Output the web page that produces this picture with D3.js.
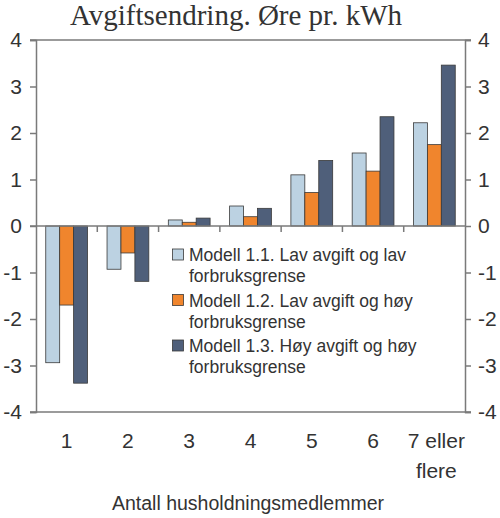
<!DOCTYPE html>
<html><head><meta charset="utf-8">
<script src="https://cdn.jsdelivr.net/npm/d3@7"></script>
<style>body{margin:0;background:#fff}svg{display:block}</style>
</head><body>
<script>
const categories = ["1","2","3","4","5","6","7 eller\nflere"];
const seriesNames = [
  "Modell 1.1. Lav avgift og lav\nforbruksgrense",
  "Modell 1.2. Lav avgift og høy\nforbruksgrense",
  "Modell 1.3. Høy avgift og høy\nforbruksgrense"
];
const modell11 = [-2.94, -0.93, 0.13, 0.43, 1.10, 1.57, 2.22];
const modell12 = [-1.70, -0.58, 0.08, 0.20, 0.72, 1.18, 1.75];
const modell13 = [-3.38, -1.19, 0.17, 0.38, 1.41, 2.35, 3.46];
const yTicks = [-4,-3,-2,-1,0,1,2,3,4];
const colors = ["#bcd2e2", "#f0852d", "#4f5f7a"];
const title = "Avgiftsendring. Øre pr. kWh";
const xTitle = "Antall husholdningsmedlemmer";

const series = [modell11, modell12, modell13];
const W = 500, H = 518;
const L = 36, R = 465, T = 40, B = 412;
const sans = "'Liberation Sans', Arial, sans-serif";
const axisCol = "#7a7a7a", textCol = "#333";

const svg = d3.select("body").append("svg").attr("width", W).attr("height", H);

const x0 = d3.scaleBand().domain(d3.range(categories.length)).range([L, R]).paddingInner(0).paddingOuter(0);
const x1 = d3.scaleBand().domain(d3.range(series.length)).range([0, x0.bandwidth()]).paddingOuter(0.7).paddingInner(0);
const y = d3.scaleLinear().domain([-4, 4]).range([B, T]);

// title
svg.append("text").attr("x", 236).attr("y", 25).attr("text-anchor", "middle")
  .style("font-family", "'Liberation Serif', 'Times New Roman', serif").style("font-size", "29px")
  .attr("fill", textCol).text(title);

// frame lines top/bottom
[T, B].forEach(v => svg.append("line").attr("x1", L - 6).attr("x2", R + 6).attr("y1", v).attr("y2", v)
  .attr("stroke", axisCol).attr("stroke-width", 1.5));

// left axis
const yl = svg.append("g").attr("transform", `translate(${L},0)`)
  .call(d3.axisLeft(y).tickValues(yTicks).tickSize(6).tickPadding(8).tickFormat(d3.format("d")));
// right axis
const yr = svg.append("g").attr("transform", `translate(${R},0)`)
  .call(d3.axisRight(y).tickValues(yTicks).tickSize(6).tickPadding(7).tickFormat(d3.format("d")));
[yl, yr].forEach(g => {
  g.select(".domain").attr("stroke", axisCol).attr("stroke-width", 1.5);
  g.selectAll(".tick line").attr("stroke", axisCol).attr("stroke-width", 1.5);
  g.selectAll(".tick text").attr("fill", textCol).style("font-family", sans).style("font-size", "21px");
});
yl.selectAll(".tick text").text(d => d < 0 ? "-" + Math.abs(d) : d);
yr.selectAll(".tick text").text(d => d < 0 ? "-" + Math.abs(d) : d);

// bars
categories.forEach((c, i) => {
  series.forEach((s, j) => {
    const v = s[i];
    svg.append("rect")
      .attr("x", x0(i) + x1(j)).attr("width", x1.bandwidth())
      .attr("y", y(Math.max(0, v))).attr("height", Math.abs(y(v) - y(0)))
      .attr("fill", colors[j]).attr("stroke", "#3a3a3a").attr("stroke-width", 0.8);
  });
});

// zero line and category ticks
svg.append("line").attr("x1", L - 6).attr("x2", R).attr("y1", y(0)).attr("y2", y(0))
  .attr("stroke", axisCol).attr("stroke-width", 1.5);
d3.range(1, categories.length).forEach(i => {
  svg.append("line").attr("x1", x0(i)).attr("x2", x0(i)).attr("y1", y(0)).attr("y2", y(0) + 6)
    .attr("stroke", axisCol).attr("stroke-width", 1.5);
});

// x labels
categories.forEach((c, i) => {
  const cx = x0(i) + x0.bandwidth() / 2 + (i === 6 ? 2 : 0);
  const t = svg.append("text").attr("x", cx).attr("y", 448)
    .attr("text-anchor", "middle").attr("fill", textCol)
    .style("font-family", sans).style("font-size", "21px");
  c.split("\n").forEach((ln, k) => t.append("tspan").attr("x", cx)
    .attr("dy", k === 0 ? 0 : 30).text(ln));
});

// x title
svg.append("text").attr("x", 248).attr("y", 510).attr("text-anchor", "middle")
  .attr("fill", textCol).style("font-family", sans).style("font-size", "19.5px").text(xTitle);

// legend
seriesNames.forEach((name, j) => {
  const by = 261 + j * 45.5;
  svg.append("rect").attr("x", 172.5).attr("y", by - 12).attr("width", 11).attr("height", 11)
    .attr("fill", colors[j]).attr("stroke", "#3a3a3a").attr("stroke-width", 0.8);
  const t = svg.append("text").attr("x", 189).attr("y", by).attr("fill", textCol)
    .style("font-family", sans).style("font-size", "17.5px");
  name.split("\n").forEach((ln, k) => t.append("tspan").attr("x", 189).attr("dy", k === 0 ? 0 : 21).text(ln));
});
</script>
</body></html>
